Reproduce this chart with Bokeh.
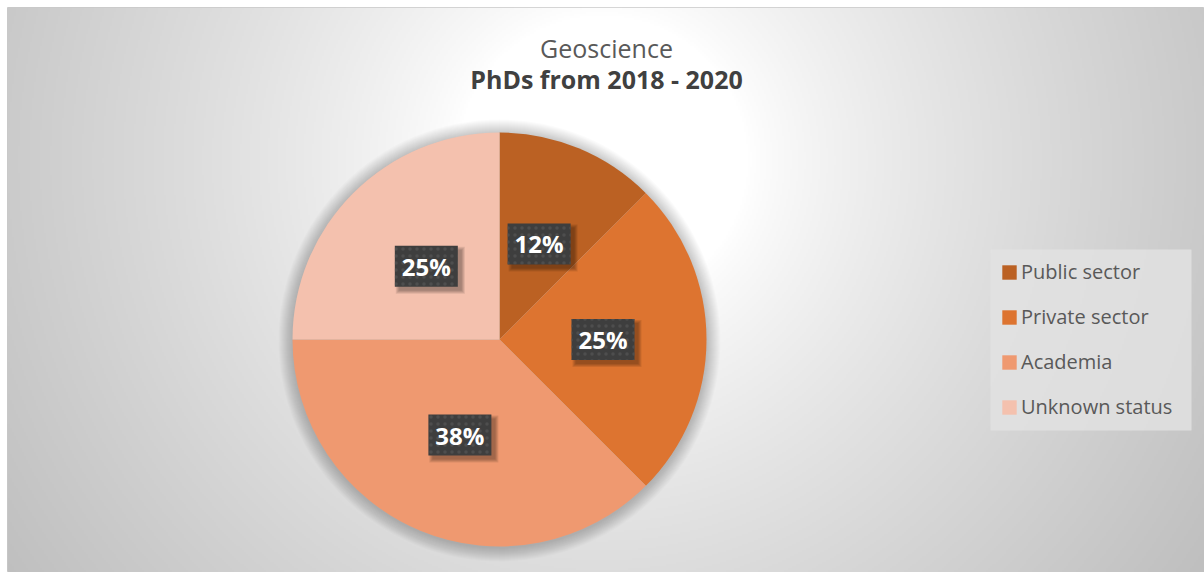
import numpy as np
from bokeh.plotting import figure
from bokeh.models import Range1d, Label, Legend, LegendItem, ColumnDataSource, BoxAnnotation
from bokeh.core.properties import value
from bokeh.embed import file_html
from bokeh.resources import INLINE

# ---- data ----
categories = ["Public sector", "Private sector", "Academia", "Unknown status"]
shares = [12.5, 25.0, 37.5, 25.0]
colors = ["#BB6123", "#DD7430", "#EF9970", "#F4C1AE"]
title_top = "Geoscience"
title_main = "PhDs from 2018 - 2020"

# ---- layout constants ----
W, H = 1204, 572
ML, MT = 7, 7
FW, FH = W - ML, H - MT
CX, CY, R = 492, 233, 207
FONT = "Open Sans"

total = sum(shares)
cum = np.concatenate([[0.0], np.cumsum(shares)])
start = np.pi / 2 - 2 * np.pi * cum[:-1] / total
end = np.pi / 2 - 2 * np.pi * cum[1:] / total
mid = (start + end) / 2
lx = CX + 0.5 * R * np.cos(mid)
ly = CY + 0.5 * R * np.sin(mid)
labels = [f"{round(100 * s / total)}%" for s in shares]

src = ColumnDataSource(dict(cat=categories, share=shares, color=colors,
                            start=start, end=end, lx=lx, ly=ly, label=labels,
                            sx=lx + 4, sy=ly - 4))

p = figure(width=W, height=H, x_range=Range1d(0, FW), y_range=Range1d(0, FH),
           output_backend="svg", toolbar_location=None, min_border=0,
           min_border_left=ML, min_border_top=MT, min_border_right=0,
           min_border_bottom=0, x_axis_location=None, y_axis_location=None)
p.grid.visible = False
p.outline_line_color = "#C9C9C9"
p.background_fill_color = "white"
p.border_fill_color = "white"

# radial gradient background
nx, ny = FW // 2, FH // 2
xs = ML + (np.arange(nx) + 0.5) * FW / nx
ys = H - (np.arange(ny) + 0.5) * FH / ny
X, Y = np.meshgrid(xs, ys)
d = np.hypot(X - 602, Y - 160)
t = d / d.max()
c = 255 - 64 * np.clip((t - 0.2) / 0.8, 0, 1) ** 0.8
c = c.astype(np.uint32)
img = (255 << 24) | (c << 16) | (c << 8) | c
p.image_rgba(image=[img.astype(np.uint32)], x=0, y=0, dw=FW, dh=FH)

# soft shadow around pie
for k in range(14, 0, -1):
    p.circle(x=[CX], y=[CY - 1], radius=R + k, fill_color="black",
             fill_alpha=0.017, line_color=None)

wedges = p.wedge(x=CX, y=CY, radius=R, start_angle="start", end_angle="end",
                 direction="clock", fill_color="color", line_color=None, source=src)

# label boxes with shadows
for k in (6, 4, 2, 0):
    p.rect(x="sx", y="sy", width=63 + k, height=41 + k, width_units="screen",
           height_units="screen", fill_color="black", fill_alpha=0.09,
           line_color=None, source=src)
p.rect(x="lx", y="ly", width=63, height=41, width_units="screen",
       height_units="screen", fill_color="#3E3E3E", line_color=None,
       hatch_pattern="dot", hatch_color="#565656", hatch_scale=7,
       hatch_weight=2, hatch_alpha=0.7, source=src)
p.text(x="lx", y="ly", text="label", source=src, text_color="white",
       text_font=value(FONT), text_font_style="bold", text_font_size="24px",
       text_align="center", text_baseline="middle")

# titles
p.add_layout(Label(x=599, y=525, text=title_top, text_font=FONT,
                   text_font_size="25px", text_color="#595959",
                   text_align="center", text_baseline="middle"))
p.add_layout(Label(x=599, y=494, text=title_main, text_font=FONT,
                   text_font_style="bold", text_font_size="25px",
                   text_color="#404040", text_align="center",
                   text_baseline="middle"))

# legend background box
p.add_layout(BoxAnnotation(left=983, right=1184, bottom=142, top=323,
                           fill_color="#E2E2E2", fill_alpha=0.8,
                           line_color=None))

# legend
items = [LegendItem(label=cat, renderers=[wedges], index=i)
         for i, cat in enumerate(categories)]
legend = Legend(items=items, location=(993, 152), orientation="vertical",
                label_text_font=FONT, label_text_font_size="20px",
                label_text_color="#595959", glyph_width=18, glyph_height=18,
                label_height=26, spacing=18, padding=0, margin=0,
                label_standoff=3, background_fill_alpha=0,
                border_line_color=None)
p.add_layout(legend)

open("out.html", "w").write(file_html(p, INLINE))
